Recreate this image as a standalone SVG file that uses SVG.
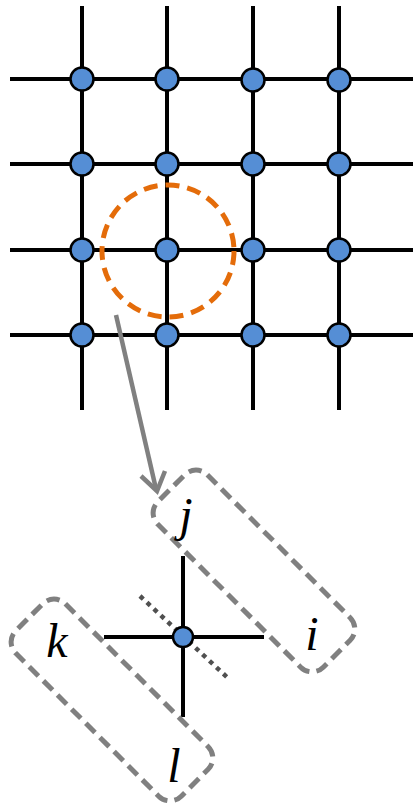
<svg xmlns="http://www.w3.org/2000/svg" width="413" height="809" viewBox="0 0 413 809">
  <style>
    .grid { stroke: #000; stroke-width: 4; fill: none; }
    .node { fill: #558ED5; stroke: #000; stroke-width: 2.5; }
    .focus { fill: none; stroke: #E46C0A; stroke-width: 5; stroke-dasharray: 14 8; }
    .pair { fill: none; stroke: #808080; stroke-width: 5; stroke-dasharray: 13 7; }
    .cut { stroke: #505050; stroke-width: 4.5; stroke-dasharray: 4.5 5; fill: none; }
    .arrow { stroke: #808080; stroke-width: 4.5; fill: none; stroke-linejoin: miter; }
    .lbl { font-family: "Liberation Serif", "DejaVu Serif", serif; font-style: italic; font-size: 48px; fill: #000; }
  </style>
  <rect width="413" height="809" fill="#fff"/>

  <!-- lattice -->
  <g id="lattice" class="grid">
    <line x1="82" y1="6" x2="82" y2="410"/>
    <line x1="167" y1="6" x2="167" y2="410"/>
    <line x1="253" y1="6" x2="253" y2="410"/>
    <line x1="339" y1="6" x2="339" y2="410"/>
    <line x1="10" y1="79" x2="413" y2="79"/>
    <line x1="10" y1="164" x2="413" y2="164"/>
    <line x1="10" y1="250" x2="413" y2="250"/>
    <line x1="10" y1="335" x2="413" y2="335"/>
  </g>
  <g id="sites">
    <circle class="node" cx="82" cy="79" r="11.5"/>
    <circle class="node" cx="167" cy="79" r="11.5"/>
    <circle class="node" cx="253" cy="80" r="11.5"/>
    <circle class="node" cx="339" cy="80" r="11.5"/>
    <circle class="node" cx="82" cy="164" r="11.5"/>
    <circle class="node" cx="167" cy="164" r="11.5"/>
    <circle class="node" cx="253" cy="164" r="11.5"/>
    <circle class="node" cx="339" cy="164" r="11.5"/>
    <circle class="node" cx="82" cy="250" r="11.5"/>
    <circle class="node" cx="167" cy="250" r="11.5"/>
    <circle class="node" cx="253" cy="250" r="11.5"/>
    <circle class="node" cx="339" cy="250" r="11.5"/>
    <circle class="node" cx="82" cy="335" r="11.5"/>
    <circle class="node" cx="167" cy="335" r="11.5"/>
    <circle class="node" cx="253" cy="335" r="11.5"/>
    <circle class="node" cx="339" cy="335" r="11.5"/>
  </g>
  <g id="focus">
    <circle class="focus" cx="168" cy="251" r="66"/>
  </g>

  <!-- zoom arrow -->
  <g id="connectors" class="arrow">
    <line x1="116" y1="315" x2="156" y2="489"/>
    <path d="M141 476 L157 491 L165 471"/>
  </g>

  <!-- single-site tensor -->
  <g id="tensor">
    <line class="grid" x1="104" y1="637" x2="264" y2="637" stroke-width="3"/>
    <line class="grid" x1="183" y1="556" x2="183" y2="717" stroke-width="3"/>
    <line class="cut" x1="140" y1="596" x2="229" y2="679"/>
    <circle class="node" cx="183" cy="637" r="10"/>
  </g>
  <g id="pair-ji">
    <rect class="pair" x="137" y="536" width="234" height="70" rx="16" transform="rotate(45 254 571)"/>
    <text class="lbl" x="186" y="531" text-anchor="middle">j</text>
    <text class="lbl" x="312" y="650" text-anchor="middle">i</text>
  </g>
  <g id="pair-kl">
    <rect class="pair" x="-5" y="665" width="234" height="70" rx="16" transform="rotate(45 112 700)"/>
    <text class="lbl" x="57" y="657" text-anchor="middle">k</text>
    <text class="lbl" x="174" y="782" text-anchor="middle">l</text>
  </g>
</svg>
